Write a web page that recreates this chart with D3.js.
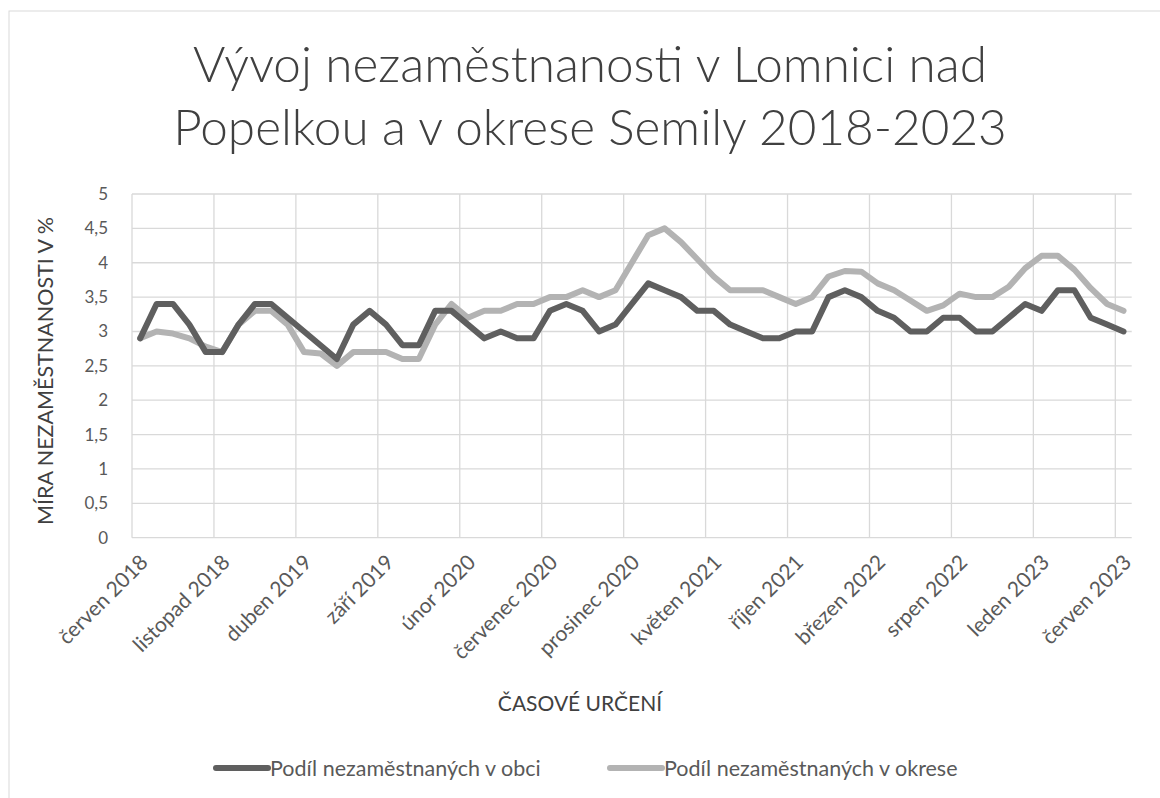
<!DOCTYPE html>
<html><head><meta charset="utf-8">
<script src="https://cdn.jsdelivr.net/npm/d3@7"></script>
<style>
html,body{margin:0;padding:0;background:#fff;}
svg{display:block;}
text{font-family:Lato,"Open Sans","Noto Sans",sans-serif;}
</style></head>
<body>
<svg id="c" width="1160" height="798"></svg>
<script>
const monthNames = ["leden","únor","březen","duben","květen","červen","červenec","srpen","září","říjen","listopad","prosinec"];
const startMonth = 5, startYear = 2018, nMonths = 61;
const tickLabels = ["červen 2018","listopad 2018","duben 2019","září 2019","únor 2020","červenec 2020","prosinec 2020","květen 2021","říjen 2021","březen 2022","srpen 2022","leden 2023","červen 2023"];
const obec = [2.9,3.4,3.4,3.1,2.7,2.7,3.1,3.4,3.4,3.2,3.0,2.8,2.6,3.1,3.3,3.1,2.8,2.8,3.3,3.3,
  3.1,2.9,3.0,2.9,2.9,3.3,3.4,3.3,3.0,3.1,3.4,3.7,3.6,3.5,3.3,3.3,3.1,3.0,2.9,2.9,
  3.0,3.0,3.5,3.6,3.5,3.3,3.2,3.0,3.0,3.2,3.2,3.0,3.0,3.2,3.4,3.3,3.6,3.6,3.2,3.1,3.0];
const okres = [2.9,3.0,2.97,2.9,2.78,2.7,3.1,3.3,3.3,3.1,2.7,2.68,2.5,2.7,2.7,2.7,2.6,2.6,3.1,3.4,
  3.2,3.3,3.3,3.4,3.4,3.5,3.5,3.6,3.5,3.6,4.0,4.4,4.5,4.3,4.05,3.8,3.6,3.6,3.6,3.5,
  3.4,3.5,3.8,3.88,3.87,3.7,3.6,3.45,3.3,3.38,3.55,3.5,3.5,3.65,3.92,4.1,4.1,3.9,3.63,3.4,3.3];
const yTicks = [0,0.5,1,1.5,2,2.5,3,3.5,4,4.5,5];
const seriesNames = ["Podíl nezaměstnaných v obci","Podíl nezaměstnaných v okrese"];
const titleLines = ["Vývoj nezaměstnanosti v Lomnici nad","Popelkou a v okrese Semily 2018-2023"];

const categories = d3.range(nMonths).map(i => {
  const m = (startMonth + i) % 12, y = startYear + Math.floor((startMonth + i) / 12);
  return monthNames[m] + " " + y;
});

const svg = d3.select("#c");
const colors = ["#5f5f5f", "#b3b3b3"];
const textCol = "#595959";

// outer border
svg.append("rect").attr("x", 9).attr("y", 11).attr("width", 1200).attr("height", 900)
  .attr("fill", "#fff").attr("stroke", "#d9d9d9").attr("stroke-width", 1);

const L = 132, R = 1131.7, T = 194, B = 537.7;
const x = d3.scaleBand().domain(categories).range([L, R]).padding(0);
const y = d3.scaleLinear().domain([0, 5]).range([B, T]);
const cx = c => x(c) + x.bandwidth() / 2;

// horizontal grid
const g = svg.append("g");
g.selectAll("line.h").data(yTicks).join("line")
  .attr("x1", L).attr("x2", R).attr("y1", d => y(d)).attr("y2", d => y(d))
  .attr("stroke", "#d9d9d9").attr("stroke-width", 1.3);
// vertical grid at category boundaries every 5
const vIdx = d3.range(0, nMonths, 5);
g.selectAll("line.v").data(vIdx).join("line")
  .attr("x1", d => x(categories[d])).attr("x2", d => x(categories[d]))
  .attr("y1", T).attr("y2", B)
  .attr("stroke", "#d9d9d9").attr("stroke-width", 1.3);

// y tick labels
const yFmt = d => String(d).replace(".", ",");
svg.append("g").selectAll("text").data(yTicks).join("text")
  .attr("x", 108).attr("y", d => y(d)).attr("dy", "0.35em")
  .attr("text-anchor", "end").attr("font-size", 17).attr("fill", textCol)
  .text(yFmt);

// x tick labels
const tickCats = vIdx.map(i => categories[i]);
svg.append("g").selectAll("text").data(tickLabels).join("text")
  .attr("text-anchor", "end").attr("font-size", 21).attr("fill", textCol)
  .attr("transform", (d, i) => `translate(${cx(tickCats[i]) + 9},${B + 26}) rotate(-45)`)
  .text(d => d);

// lines
const line = d3.line().x((d, i) => cx(categories[i])).y(d => y(d));
[obec, okres].reverse().forEach((s, k) => {
  svg.append("path").datum(s).attr("d", line).attr("fill", "none")
    .attr("stroke", colors[1 - k]).attr("stroke-width", 6)
    .attr("stroke-linejoin", "round").attr("stroke-linecap", "round");
});

// axis titles
svg.append("text").attr("transform", "translate(53,371) rotate(-90)")
  .attr("text-anchor", "middle").attr("font-size", 21.5).attr("fill", "#404040")
  .text("MÍRA NEZAMĚSTNANOSTI V %");
svg.append("text").attr("x", 580).attr("y", 711)
  .attr("text-anchor", "middle").attr("font-size", 21).attr("fill", "#404040")
  .text("ČASOVÉ URČENÍ");

// title
const tl = svg.append("g").selectAll("text").data(titleLines).join("text")
  .attr("x", 590).attr("y", (d, i) => 82 + i * 63)
  .attr("text-anchor", "middle").attr("font-size", 48).attr("font-weight", 300)
  .attr("fill", "#404040").text(d => d);
const w0 = tl.nodes()[0].getComputedTextLength();
const fs = 48 * 794 / w0;
tl.attr("font-size", fs);

// legend
const legX = [216, 610];
const lg = svg.append("g").selectAll("g").data(seriesNames).join("g")
  .attr("transform", (d, i) => `translate(${legX[i]},768)`);
lg.append("line").attr("x1", 0).attr("x2", 52).attr("y1", 0).attr("y2", 0)
  .attr("stroke", (d, i) => colors[i]).attr("stroke-width", 6).attr("stroke-linecap", "round");
lg.append("text").attr("x", 54).attr("y", 0).attr("dy", "0.35em")
  .attr("font-size", 21.5).attr("fill", textCol).text(d => d);
</script>
</body></html>
